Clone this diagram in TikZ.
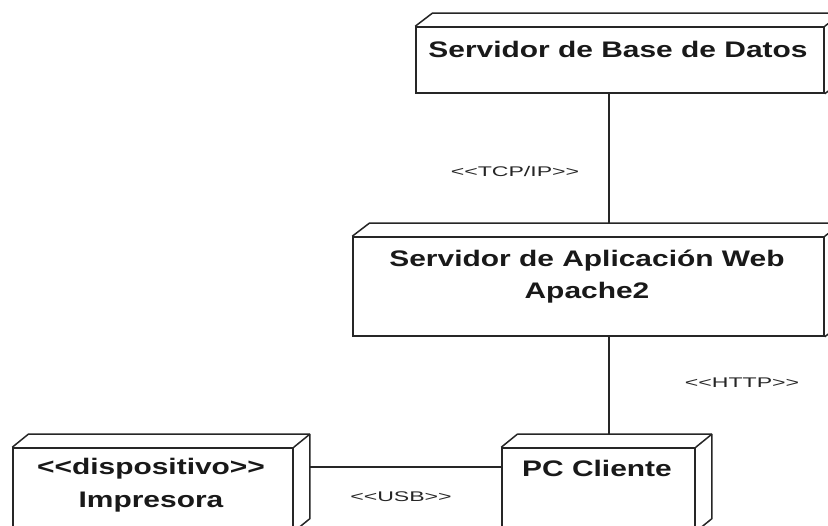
\documentclass[tikz,border=0pt]{standalone}
\usepackage{fontspec}
\setmainfont{Liberation Sans}
\newfontfamily\nodefont[FakeStretch=1.33]{Liberation Sans}
\newfontfamily\linkfont[FakeStretch=1.65]{Liberation Sans}
\usetikzlibrary{calc}

\tikzset{
  umlbox/.style={draw=black!85, line width=1.5pt, fill=white, inner sep=0pt,
    rectangle, minimum width=#1},
  nodetext/.style={anchor=base, inner sep=0pt, font=\nodefont\bfseries\fontsize{22.5}{26}\selectfont, text=black!90},
  linktext/.style={anchor=base, inner sep=0pt, font=\linkfont\fontsize{14}{16}\selectfont, text=black!85},
  wire/.style={draw=black!85, line width=1.5pt},
}

% top and right faces of a 3D deployment node
\newcommand{\nodedepth}[3]{%
  \draw[wire, line join=round] (#1.north west) -- ++(#2,-#3)
    -- ($(#1.north east)+(#2,-#3)$) -- ($(#1.south east)+(#2,-#3)$) -- (#1.south east);
  \draw[wire] (#1.north east) -- ++(#2,-#3);
}

\begin{document}
\begin{tikzpicture}[x=1pt, y=-1pt]
  \useasboundingbox (0,0) rectangle (828,526);
  \clip (0,0) rectangle (828,526);
  \fill[white] (0,0) rectangle (828,526);

  % deployment nodes (front faces)
  \node[umlbox=408pt, minimum height=66pt] (db)  at (620,60)    {};
  \node[umlbox=471pt, minimum height=99pt] (app) at (588.5,286.5) {};
  \node[umlbox=280pt, minimum height=83pt] (prn) at (153,489.5) {};
  \node[umlbox=193pt, minimum height=83pt] (pc)  at (598.5,489.5) {};

  \nodedepth{db}{17}{13}
  \nodedepth{app}{17}{13}
  \nodedepth{prn}{16}{13}
  \nodedepth{pc}{16}{13}

  % node names
  \node[nodetext] (dbname)   at (618,58)  {Servidor de Base de Datos};
  \node[nodetext] (appname)  at (587,267) {Servidor de Aplicación Web};
  \node[nodetext] (appname2) at (587,299) {Apache2};
  \node[nodetext] (prnst)    at (151,475) {<<dispositivo>>};
  \node[nodetext] (prnname)  at (151,508) {Impresora};
  \node[nodetext] (pcname)   at (597,477) {PC Cliente};

  % communication paths
  \coordinate (xa) at (609,0);
  \coordinate (yu) at (0,467);
  \draw[wire] (db.south -| xa) -- ($(app.north -| xa)+(0,-13)$);
  \draw[wire] (app.south -| xa) -- ($(pc.north -| xa)+(0,-13)$);
  \draw[wire] ($(prn.east |- yu)+(16,0)$) -- (pc.west |- yu);

  % path stereotypes
  \node[linktext] (tcp)  at (515,177) {<<TCP/IP>>};
  \node[linktext] (http) at (742,388) {<<HTTP>>};
  \node[linktext] (usb)  at (401,502) {<<USB>>};
\end{tikzpicture}
\end{document}
